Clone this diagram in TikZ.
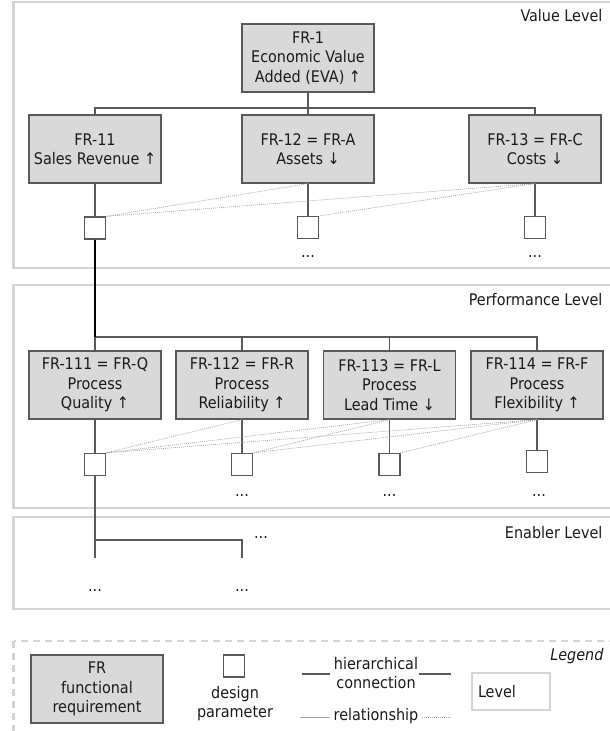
\documentclass[tikz,border=0pt]{standalone}
\usepackage{fontspec}
\setmainfont{DejaVu Sans Condensed}
\usetikzlibrary{calc}
\definecolor{edgec}{HTML}{595959}
\definecolor{frfill}{HTML}{D9D9D9}
\definecolor{framec}{HTML}{D4D4D4}
\definecolor{relc}{HTML}{A6A6A6}
\definecolor{txt}{HTML}{1A1A1A}

\begin{document}
\begin{tikzpicture}[x=1pt,y=-1pt,
  every node/.style={font=\fontsize{16}{19.3}\selectfont, text=txt},
  fr/.style={draw=edgec, fill=frfill, line width=1.3pt, minimum width=132pt,
    minimum height=68pt, align=center, inner sep=0pt},
  dp/.style={draw=edgec, fill=white, line width=1.3pt, minimum width=21pt,
    minimum height=22pt, inner sep=0pt},
  hier/.style={draw=edgec, line width=1.3pt},
  mainline/.style={draw=black, line width=2pt},
  rel/.style={draw=relc, line width=0.7pt, dash pattern=on 1pt off 1pt},
  frame/.style={draw=framec, line width=2.4pt},
  lvl/.style={anchor=east}]
  \useasboundingbox (0,0) rectangle (610,731);

  \draw[frame] (13.6,2) rectangle (625,268);
  \draw[frame] (13.6,285) rectangle (625,508);
  \draw[frame] (13.6,517) rectangle (625,609);
  \draw[frame, dash pattern=on 7pt off 5pt] (13.6,641) rectangle (625,745);

  \node[lvl] (valuelbl) at (606,16) {Value Level};
  \node[lvl] (perflbl) at (606,300) {Performance Level};
  \node[lvl] (enablbl) at (606,533) {Enabler Level};
  \node[lvl] (legendlbl) at (607,656) {\itshape Legend};

  \node[fr] (fr1) at (308,58) {FR-1\\Economic Value\\Added (EVA) ↑};
  \node[fr] (fr11) at (95,149) {FR-11\\Sales Revenue ↑};
  \node[fr] (fr12) at (308,149) {FR-12 = FR-A\\Assets ↓};
  \node[fr] (fr13) at (535,149) {FR-13 = FR-C\\Costs ↓};
  \coordinate (bus1) at (308,108);
  \draw[hier] (fr1.south) -- (bus1);
  \draw[hier] (fr11.north) |- (bus1) -| (fr13.north);
  \draw[hier] (fr12.north) -- (bus1);

  \node[dp] (dp11) at (95,228) {};
  \node[dp] (dp12) at (308,227.5) {};
  \node[dp] (dp13) at (535,227.5) {};
  \foreach \i in {11,12,13}
    \draw[hier] (fr\i.south) -- (dp\i.north);
  \node (more12) at (308,257) {...};
  \node (more13) at (535,257) {...};

  \draw[rel] (fr12.south) -- (dp11.north east);
  \draw[rel] (fr13.south) -- (dp11.north east);
  \draw[rel] (fr13.south) -- (dp12.north east);

  \node[fr] (fr111) at (95,385) {FR-111 = FR-Q\\Process\\Quality ↑};
  \node[fr] (fr112) at (242,385) {FR-112 = FR-R\\Process\\Reliability ↑};
  \node[fr] (fr113) at (389.5,385) {FR-113 = FR-L\\Process\\Lead Time ↓};
  \node[fr] (fr114) at (537,385) {FR-114 = FR-F\\Process\\Flexibility ↑};
  \coordinate (bus2) at (95,337);
  \draw[hier] (fr111.north) -- (bus2) -| (fr114.north);
  \draw[hier] (fr112.north) -- (fr112.north |- bus2);
  \draw[hier] (fr113.north) -- (fr113.north |- bus2);
  \draw[mainline] (dp11.south) -- (bus2);

  \node[dp] (dp111) at (95,464.5) {};
  \node[dp] (dp112) at (242,464.5) {};
  \node[dp] (dp113) at (389.5,464.5) {};
  \node[dp] (dp114) at (537,461.5) {};
  \foreach \i in {111,112,113,114}
    \draw[hier] (fr\i.south) -- (dp\i.north);
  \node (more112) at (242,496) {...};
  \node (more113) at (389.5,496) {...};
  \node (more114) at (539,496) {...};

  \draw[rel] (fr112.south) -- (dp111.north east);
  \draw[rel] (fr113.south) -- (dp111.north east);
  \draw[rel] (fr113.south) -- (dp112.north east);
  \draw[rel] (fr114.south) -- (dp111.north east);
  \draw[rel] (fr114.south) -- (dp112.north east);
  \draw[rel] (fr114.south) -- (dp113.north east);

  \coordinate (bus3) at (95,540);
  \coordinate (en1) at (95,558);
  \coordinate (en2) at (242,558);
  \draw[hier] (dp111.south) -- (en1);
  \draw[hier] (bus3) -| (en2);
  \node (moreen) at (261,538) {...};
  \node (moreen1) at (95,590) {...};
  \node (moreen2) at (242,590) {...};

  \node[fr] (legfr) at (97,689) {FR\\functional\\requirement};
  \node[dp] (legdp) at (234,666) {};
  \node[align=center] (legdptxt) at (235,703.5) {design\\parameter};
  \node[align=center] (leghier) at (376,673) {hierarchical\\connection};
  \coordinate (h1) at (302,674);
  \coordinate (h2) at (419,674);
  \draw[hier] (h1) -- (h1 -| leghier.west);
  \draw[hier] (h2) -- ++(32,0);
  \node (legrel) at (376,716) {relationship};
  \draw[draw=relc, line width=0.8pt] (300,717) -- (legrel.west |- 0,717);
  \draw[rel] (legrel.east |- 0,717) -- (451,717);
  \node[draw=framec, line width=2pt, minimum width=78pt, minimum height=37pt,
    text width=66pt, align=left, inner xsep=6pt] (leglvl) at (511,691.5) {Level};
\end{tikzpicture}
\end{document}
